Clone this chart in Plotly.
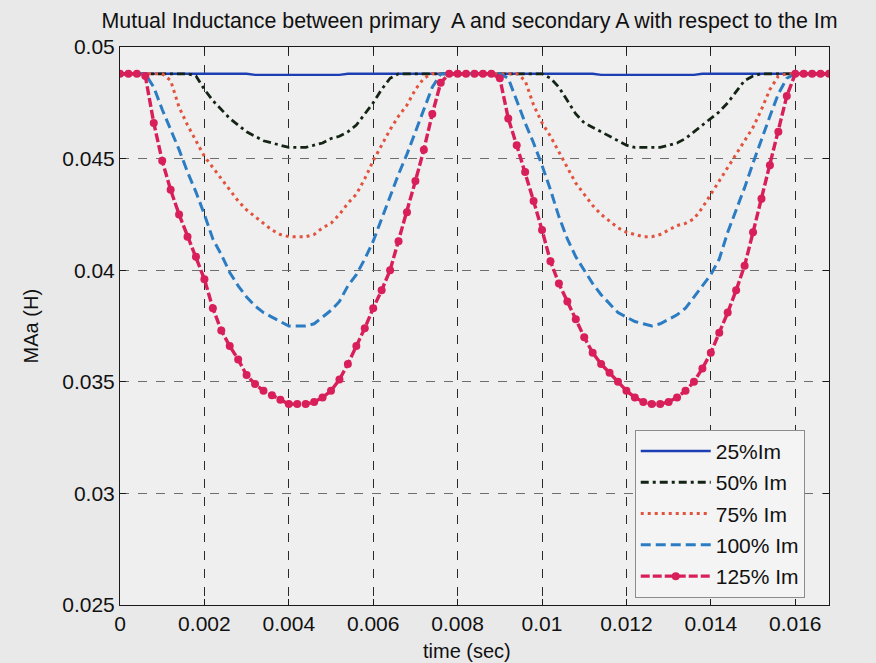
import numpy as np
import plotly.graph_objects as go

# Sampling clock: one sample every 0.2 ms over one 60 Hz cycle
time_s = np.round(np.arange(85) * 0.0002, 4)

# Mutual inductance MAa (H) for each magnetising-current level
ma_25 = [
    0.0488, 0.0488, 0.0488, 0.0488, 0.0488, 0.0488, 0.0488, 0.0488, 0.0488, 0.0488,
    0.0488, 0.0488, 0.0488, 0.0488, 0.0488, 0.0488, 0.04875, 0.04875, 0.04875, 0.04875,
    0.04875, 0.04875, 0.04875, 0.04875, 0.04875, 0.04875, 0.04875, 0.0488, 0.0488, 0.0488,
    0.0488, 0.0488, 0.0488, 0.0488, 0.0488, 0.0488, 0.0488, 0.0488, 0.0488, 0.0488,
    0.0488, 0.0488, 0.0488, 0.0488, 0.0488, 0.0488, 0.0488, 0.0488, 0.0488, 0.0488,
    0.0488, 0.0488, 0.0488, 0.0488, 0.0488, 0.0488, 0.0488, 0.04875, 0.04875, 0.04875,
    0.04875, 0.04875, 0.04875, 0.04875, 0.04875, 0.04875, 0.04875, 0.04875, 0.04875, 0.0488,
    0.0488, 0.0488, 0.0488, 0.0488, 0.0488, 0.0488, 0.0488, 0.0488, 0.0488, 0.0488,
    0.0488, 0.0488, 0.0488, 0.0488, 0.0488,
]
ma_50 = [
    0.0488, 0.0488, 0.0488, 0.0488, 0.0488, 0.0488, 0.0488, 0.0488, 0.0488, 0.0487,
    0.0481, 0.0476, 0.0472, 0.0468, 0.0465, 0.0462, 0.0460, 0.0458, 0.0457, 0.0456,
    0.0455, 0.0455, 0.0455, 0.0456, 0.0457, 0.0459, 0.0460, 0.0462, 0.0465, 0.0470,
    0.0475, 0.0481, 0.0486, 0.0488, 0.0488, 0.0488, 0.0488, 0.0488, 0.0488, 0.0488,
    0.0488, 0.0488, 0.0488, 0.0488, 0.0488, 0.0488, 0.0488, 0.0488, 0.0488, 0.0488,
    0.0488, 0.0486, 0.0482, 0.0476, 0.0470, 0.0466, 0.0464, 0.0462, 0.0460, 0.0458,
    0.0456, 0.0455, 0.0455, 0.0455, 0.0455, 0.0456, 0.0457, 0.0459, 0.0462, 0.0465,
    0.0468, 0.0471, 0.0475, 0.0480, 0.0485, 0.0487, 0.0488, 0.0488, 0.0488, 0.0488,
    0.0488, 0.0488, 0.0488, 0.0488, 0.0488,
]
ma_75 = [
    0.0488, 0.0488, 0.0488, 0.0488, 0.0488, 0.0488, 0.0485, 0.0473, 0.0465, 0.0458,
    0.0451, 0.0446, 0.0441, 0.0436, 0.0431, 0.0427, 0.0424, 0.0421, 0.0418, 0.0416,
    0.0415, 0.0415, 0.0415, 0.0416, 0.0419, 0.0421, 0.0425, 0.0430, 0.0434, 0.0441,
    0.0449, 0.0456, 0.0463, 0.0469, 0.0474, 0.0481, 0.0486, 0.0488, 0.0488, 0.0488,
    0.0488, 0.0488, 0.0488, 0.0488, 0.0488, 0.0488, 0.0488, 0.0488, 0.0485, 0.0474,
    0.0466, 0.0460, 0.0453, 0.0446, 0.0439, 0.0434, 0.0429, 0.0425, 0.0422, 0.0419,
    0.0417, 0.0416, 0.0415, 0.0415, 0.0416, 0.0418, 0.0420, 0.0421, 0.0423, 0.0428,
    0.0434, 0.0440, 0.0446, 0.0452, 0.0458, 0.0464, 0.0472, 0.0481, 0.0487, 0.0488,
    0.0488, 0.0488, 0.0488, 0.0488, 0.0488,
]
ma_100 = [
    0.0488, 0.0488, 0.0488, 0.0488, 0.0482, 0.0472, 0.0463, 0.0454, 0.0444, 0.0435,
    0.0425, 0.0414, 0.0407, 0.0399, 0.0393, 0.0388, 0.0384, 0.0381, 0.0379, 0.0377,
    0.0375, 0.0375, 0.0375, 0.0376, 0.0379, 0.0382, 0.0386, 0.0393, 0.0398, 0.0405,
    0.0413, 0.0423, 0.0433, 0.0443, 0.0452, 0.0462, 0.0472, 0.0482, 0.0488, 0.0488,
    0.0488, 0.0488, 0.0488, 0.0488, 0.0488, 0.0488, 0.0486, 0.0476, 0.0466, 0.0457,
    0.0447, 0.0436, 0.0424, 0.0414, 0.0406, 0.0400, 0.0394, 0.0389, 0.0385, 0.0381,
    0.0379, 0.0377, 0.0376, 0.0375, 0.0376, 0.0378, 0.0380, 0.0383, 0.0388, 0.0393,
    0.0398, 0.0405, 0.0417, 0.0427, 0.0437, 0.0448, 0.0459, 0.0469, 0.0479, 0.0486,
    0.0488, 0.0488, 0.0488, 0.0488, 0.0488,
]
ma_125 = [
    0.0488, 0.0488, 0.0488, 0.0487, 0.0466, 0.0449, 0.0436, 0.0425, 0.0415, 0.0406,
    0.0396, 0.0383, 0.0373, 0.0366, 0.0360, 0.0353, 0.0349, 0.0346, 0.0344, 0.0342,
    0.0340, 0.0340, 0.0340, 0.0341, 0.0343, 0.0346, 0.0351, 0.0358, 0.0366, 0.0374,
    0.0383, 0.0391, 0.0400, 0.0413, 0.0426, 0.0440, 0.0454, 0.0470, 0.0484, 0.0488,
    0.0488, 0.0488, 0.0488, 0.0488, 0.0488, 0.0486, 0.0468, 0.0456, 0.0444, 0.0431,
    0.0418, 0.0404, 0.0394, 0.0386, 0.0378, 0.0370, 0.0363, 0.0358, 0.0354, 0.0350,
    0.0346, 0.0343, 0.0341, 0.0340, 0.0340, 0.0341, 0.0343, 0.0346, 0.0350, 0.0356,
    0.0363, 0.0372, 0.0381, 0.0391, 0.0402, 0.0417, 0.0432, 0.0447, 0.0462, 0.0478,
    0.0488, 0.0488, 0.0488, 0.0488, 0.0488,
]

series_names = ["25%Im", "50% Im", "75% Im", "100% Im", "125% Im"]
x_ticks = [0, 0.002, 0.004, 0.006, 0.008, 0.01, 0.012, 0.014, 0.016]
x_tick_text = ["0", "0.002", "0.004", "0.006", "0.008", "0.01", "0.012", "0.014", "0.016"]
y_ticks = [0.025, 0.03, 0.035, 0.04, 0.045, 0.05]
y_tick_text = ["0.025", "0.03", "0.035", "0.04", "0.045", "0.05"]

FONT = "Liberation Sans, Arial, sans-serif"

styles = [
    dict(color="#1c3fb4", width=2.4, dash="solid"),
    dict(color="#142414", width=2.8, dash="8px,4px,3px,4px"),
    dict(color="#e2523c", width=3, dash="3px,4px"),
    dict(color="#2b7cc2", width=3, dash="10px,5px"),
    dict(color="#d81f5a", width=3.4, dash="9px,3px"),
]
values = [ma_25, ma_50, ma_75, ma_100, ma_125]

fig = go.Figure()
for i, (name, vals, st) in enumerate(zip(series_names, values, styles)):
    is_marked = i == 4
    fig.add_trace(go.Scatter(
        x=time_s, y=vals, name=name,
        mode="lines+markers" if is_marked else "lines",
        line=st,
        marker=dict(size=8, color=st["color"], symbol="circle") if is_marked else None,
        legendgroup=name,
    ))

axis_common = dict(
    showline=True, linecolor="#1a1a1a", linewidth=1, mirror="ticks",
    ticks="inside", ticklen=6, tickcolor="#1a1a1a", tickwidth=1,
    showgrid=True, griddash="dash", gridwidth=1, zeroline=False,
    tickfont=dict(family=FONT, size=21, color="#111111"),
)

fig.update_layout(
    width=876, height=663,
    margin=dict(l=120, r=47, t=47, b=58),
    paper_bgcolor="#e9e9e9",
    plot_bgcolor="#efefef",
    showlegend=True,
    title=dict(
        text="Mutual Inductance between primary  A and secondary A with respect to the Im",
        font=dict(family=FONT, size=21.4, color="#111111"),
        x=0.493, xref="paper", xanchor="center",
        y=1 - 21 / 663, yref="container", yanchor="middle",
    ),
    xaxis=dict(axis_common, range=[0, 0.0168], tickvals=x_ticks, ticktext=x_tick_text,
               gridcolor="#2a2a2a"),
    yaxis=dict(axis_common, range=[0.025, 0.05], tickvals=y_ticks, ticktext=y_tick_text,
               gridcolor="#6e6e6e"),
    legend=dict(
        x=0.726, y=0.314, xanchor="left", yanchor="top",
        bgcolor="#f4f4f4", bordercolor="#8c8c8c", borderwidth=1,
        font=dict(family=FONT, size=21, color="#111111"),
        itemwidth=70, tracegroupgap=1, traceorder="grouped",
    ),
    annotations=[
        dict(text="time (sec)", xref="paper", yref="paper", x=0.49, y=-0.082,
             showarrow=False, xanchor="center", yanchor="middle",
             font=dict(family=FONT, size=20, color="#111111")),
        dict(text="MAa (H)", xref="paper", yref="paper", x=-0.125, y=0.5,
             showarrow=False, xanchor="center", yanchor="middle", textangle=-90,
             font=dict(family=FONT, size=20, color="#111111")),
    ],
)

fig.write_html("out.html")
